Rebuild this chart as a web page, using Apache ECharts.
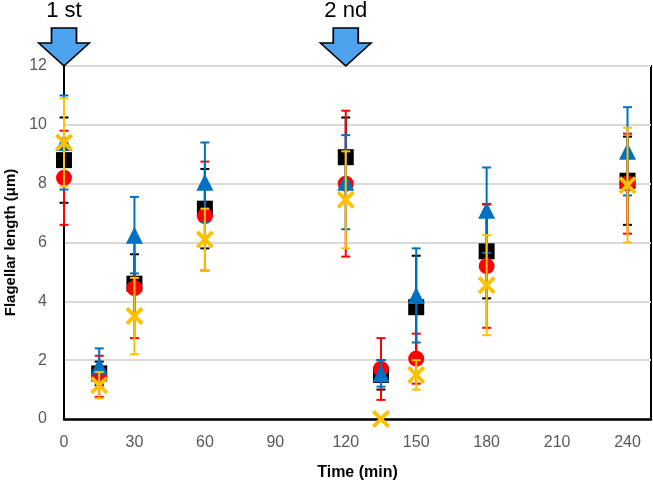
<!DOCTYPE html>
<html>
<head>
<meta charset="utf-8">
<script src="https://cdn.jsdelivr.net/npm/echarts@6/dist/echarts.min.js"></script>
<style>html,body{margin:0;padding:0;background:#fff;}#c{width:653px;height:485px;}</style>
</head>
<body>
<div id="c"></div>
<script>
var times = [0, 15, 30, 60, 120, 135, 150, 180, 240];
var blackMean = [8.8, 1.55, 4.6, 7.15, 8.9, 1.5, 3.8, 5.7, 8.1];
var blackErr  = [1.45, 0.4, 1.0, 1.35, 1.35, 0.5, 1.75, 1.6, 1.5];
var redMean   = [8.2, 1.45, 4.45, 6.9, 8.0, 1.7, 2.05, 5.2, 8.0];
var redErr    = [1.6, 0.7, 1.7, 1.85, 2.48, 1.05, 0.85, 2.1, 1.7];
var blueMean  = [9.4, 1.8, 6.25, 8.05, 8.05, 1.55, 4.2, 7.1, 9.1];
var blueErr   = [1.6, 0.6, 1.3, 1.35, 1.6, 0.45, 1.6, 1.45, 1.5];
var yellowMean= [9.4, 1.15, 3.5, 6.1, 7.45, 0, 1.5, 4.55, 7.95];
var yellowErr = [1.5, 0.45, 1.3, 1.05, 1.65, 0, 0.5, 1.7, 1.95];
var xTicks = [0, 30, 60, 90, 120, 150, 180, 210, 240];
var arrowTimes = [0, 120];
var arrowLabels = ['1 st', '2 nd'];

var FONT = '"Liberation Sans", Arial, sans-serif';
var xPath = 'path://M0,3 L3,0 L10,7 L17,0 L20,3 L13,10 L20,17 L17,20 L10,13 L3,20 L0,17 L7,10 Z';
var arrowPath = 'path://M13,0 L38,0 L38,15 L51,15 L25.5,38 L0,15 L13,15 Z';

function pts(means) { return times.map(function (t, i) { return [t, means[i]]; }); }
function errData(means, errs) { return times.map(function (t, i) { return [t, means[i], errs[i]]; }); }

function errSeries(means, errs, color, z) {
  return {
    type: 'custom', z: z, silent: true,
    data: errData(means, errs),
    encode: { x: 0, y: 1 },
    renderItem: function (params, api) {
      var x = api.value(0), y = api.value(1), e = api.value(2);
      if (!e) return { type: 'group', children: [] };
      var top = api.coord([x, y + e]), bot = api.coord([x, y - e]);
      var w = 4.5, st = { stroke: color, lineWidth: 2 };
      return { type: 'group', children: [
        { type: 'line', shape: { x1: top[0], y1: top[1], x2: bot[0], y2: bot[1] }, style: st },
        { type: 'line', shape: { x1: top[0] - w, y1: top[1], x2: top[0] + w, y2: top[1] }, style: st },
        { type: 'line', shape: { x1: bot[0] - w, y1: bot[1], x2: bot[0] + w, y2: bot[1] }, style: st }
      ]};
    }
  };
}
function markSeries(means, symbol, size, color, z) {
  return { type: 'scatter', z: z, data: pts(means), symbol: symbol, symbolSize: size,
    itemStyle: { color: color, opacity: 1 }, silent: true };
}

var chart = echarts.init(document.getElementById('c'), null, { renderer: 'canvas' });
chart.setOption({
  animation: false,
  backgroundColor: '#fff',
  grid: { left: 64, right: 2, top: 66, bottom: 66, show: true, borderColor: '#000', borderWidth: 2,
    containLabel: false, outerBoundsMode: 'none' },
  xAxis: {
    type: 'value', min: 0, max: 250, interval: 30,
    name: 'Time (min)', nameLocation: 'middle', nameGap: 46,
    nameTextStyle: { fontFamily: FONT, fontWeight: 'bold', fontSize: 16, color: '#000' },
    axisLine: { show: true, onZero: false, lineStyle: { color: '#000', width: 2.5 } },
    axisTick: { show: false },
    splitLine: { show: false },
    axisLabel: { margin: 16, color: '#595959', fontSize: 16, fontFamily: FONT,
      formatter: function (v) { return xTicks.indexOf(v) >= 0 ? String(v) : ''; } }
  },
  yAxis: {
    type: 'value', min: 0, max: 12, interval: 2,
    name: 'Flagellar length (μm)', nameLocation: 'middle', nameGap: 46,
    nameTextStyle: { fontFamily: FONT, fontWeight: 'bold', fontSize: 15, color: '#000' },
    axisLine: { show: true, lineStyle: { color: '#000', width: 2 } },
    axisTick: { show: false },
    splitLine: { show: true, lineStyle: { color: '#d9d9d9', width: 2 } },
    axisLabel: { margin: 17, color: '#595959', fontSize: 16, fontFamily: FONT }
  },
  series: [
    errSeries(blackMean, blackErr, '#000000', 2),
    markSeries(blackMean, 'rect', 16, '#000000', 3),
    errSeries(redMean, redErr, '#ff0000', 4),
    markSeries(redMean, 'circle', 16, '#ff0000', 5),
    errSeries(blueMean, blueErr, '#0070c0', 6),
    markSeries(blueMean, 'triangle', 17, '#0070c0', 7),
    errSeries(yellowMean, yellowErr, '#ffc000', 8),
    markSeries(yellowMean, xPath, 18, '#ffc000', 9),
    {
      type: 'scatter', data: [], z: 20, silent: true,
      markPoint: {
        symbol: arrowPath, symbolSize: [51, 38], symbolKeepAspect: false,
        symbolOffset: [0, '-50%'],
        itemStyle: { color: '#4da3ee', borderColor: '#000', borderWidth: 1.5 },
        label: { show: true, position: 'top', distance: 5, formatter: '{b}',
          color: '#000', fontSize: 22, fontFamily: FONT },
        data: arrowTimes.map(function (t, i) { return { name: arrowLabels[i], coord: [t, 12] }; })
      }
    }
  ]
});
</script>
</body>
</html>
